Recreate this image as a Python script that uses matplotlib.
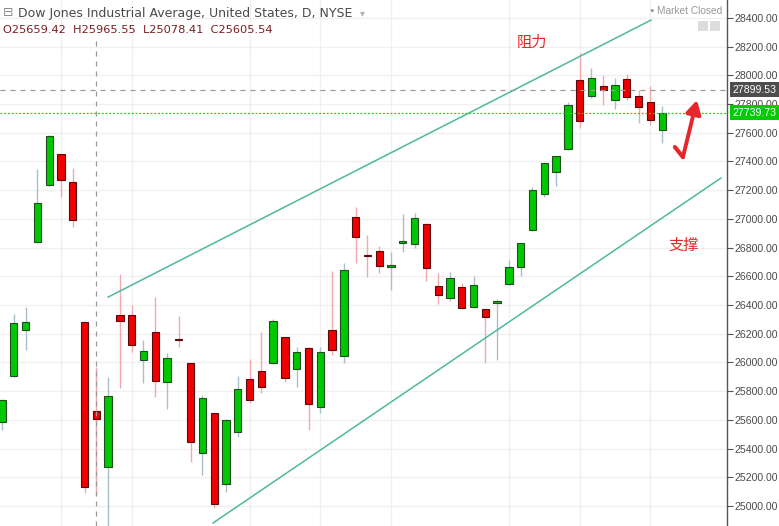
import numpy as np
import matplotlib
matplotlib.use("Agg")
import matplotlib.pyplot as plt
from matplotlib.patches import Rectangle

plt.rcParams['font.family'] = ['DejaVu Sans', 'Noto Sans CJK SC']

# daily candles, oldest first
opens = [25585, 25905, 26226, 26838, 27235, 27451, 27256, 26281, 25659.42, 25272,
         26330, 26330, 26017, 26212, 25864, 26160, 25996, 25369, 25648, 25153,
         25515, 25884, 25940, 25996, 26177, 25954, 26100, 25689, 26226, 26045,
         27013, 26745, 26776, 26664, 26835, 26825, 26964, 26532, 26449, 26525,
         26386, 26372, 26414, 26546, 26664, 26922, 27173, 27326, 27486, 27967,
         27855, 27925, 27827, 27974, 27855, 27813, 27618]
highs = [25745, 26337, 26386, 27347, 27585, 27455, 27354, 26290, 25965.55, 25898,
         26616, 26400, 26156, 26455, 26066, 26323, 26000, 25773, 25650, 25605,
         25905, 26024, 26212, 26302, 26180, 26107, 26105, 26107, 26637, 26692,
         27082, 26887, 26811, 26769, 27033, 27040, 26970, 26623, 26630, 26553,
         26602, 26375, 26442, 26713, 26835, 27222, 27395, 27440, 27813, 28155,
         28050, 28001, 27981, 28008, 27897, 27925, 27786]
lows = [25529, 25900, 26086, 26830, 27230, 27152, 26943, 25091, 25078.41, 24830,
        25822, 26072, 25857, 25759, 25676, 26107, 25306, 25216, 24986, 25097,
        25481, 25717, 25787, 25990, 25864, 25829, 25529, 25648, 26052, 25996,
        26692, 26595, 26623, 26504, 26769, 26797, 26567, 26407, 26428, 26372,
        26380, 25996, 26017, 26540, 26602, 26915, 27152, 27228, 27480, 27632,
        27841, 27793, 27765, 27827, 27667, 27653, 27528]
closes = [25738, 26274, 26281, 27110, 27577, 27270, 26992, 25132, 25605.54, 25766,
          26288, 26121, 26079, 25871, 26031, 26153, 25446, 25752, 25014, 25599,
          25815, 25738, 25829, 26288, 25891, 26072, 25710, 26072, 26086, 26644,
          26873, 26738, 26671, 26678, 26842, 27006, 26657, 26469, 26588, 26379,
          26539, 26316, 26428, 26664, 26832, 27201, 27389, 27437, 27793, 27681,
          27981, 27897, 27932, 27848, 27779, 27688, 27739.73]

last_price = 27739.73
cursor_price = 27899.53
cursor_day = 8
grid_days = [5, 11, 21, 27, 33, 43, 49, 55]
price_ticks = np.arange(25000, 28401, 200)

# hand-drawn channel and markup
upper_x, upper_y = [9.0, 55.05], [26455, 28384]
lower_x, lower_y = [17.9, 60.98], [24882, 27284]
check_x, check_y = [57.08, 57.76, 58.95], [27500, 27430, 27827]

up_col, dn_col = '#00c800', '#f00000'
up_edge, dn_edge = '#1e4d1e', '#5a0a0a'
up_wick, dn_wick = '#a9bfcc', '#f2a8ae'
chan_col = '#4fb89e'
mark_red = '#e5262b'
axis_font = ['Liberation Sans', 'DejaVu Sans']

fig = plt.figure(figsize=(7.79, 5.26), dpi=100)
ax = fig.add_axes([0, 0, 727 / 779, 1])
ax.set_xlim(-0.17, 61.5)
ax.set_ylim(24861, 28524)

for g in grid_days:
    ax.axvline(g, color='#f0f0f0', lw=1, zorder=0)
for t in price_ticks:
    ax.axhline(t, color='#f0f0f0', lw=1, zorder=0)

o = np.array(opens, float)
h = np.array(highs, float)
l = np.array(lows, float)
c = np.array(closes, float)
x = np.arange(len(o))
up = c >= o

ax.vlines(x[up], l[up], h[up], color=up_wick, lw=1, zorder=2)
ax.vlines(x[~up], l[~up], h[~up], color=dn_wick, lw=1, zorder=2)
body_lo = np.minimum(o, c)
body_h = np.maximum(np.abs(c - o), 8)
ax.bar(x[up], body_h[up], bottom=body_lo[up], width=0.62, color=up_col,
       edgecolor=up_edge, linewidth=0.8, zorder=3)
ax.bar(x[~up], body_h[~up], bottom=body_lo[~up], width=0.62, color=dn_col,
       edgecolor=dn_edge, linewidth=0.8, zorder=3)

ax.plot(upper_x, upper_y, color=chan_col, lw=1.1, zorder=4)
ax.plot(lower_x, lower_y, color=chan_col, lw=1.1, zorder=4)

# crosshair and last price line
ax.axhline(cursor_price, color='#9a9a9a', lw=0.9, ls=(0, (4, 4)), zorder=5)
ax.plot([cursor_day, cursor_day], [ax.get_ylim()[0], 28245], color='#9a9a9a',
        lw=0.9, ls=(0, (4, 4)), zorder=5)
ax.axhline(last_price, color='#22cc22', lw=0.9, ls=(0, (1.5, 1.5)), zorder=5)

# markup
ax.plot(check_x[:2], check_y[:2], color=mark_red, lw=3, solid_capstyle='round', zorder=6)
ax.annotate('', xy=(check_x[2], check_y[2]), xytext=(check_x[1], check_y[1]),
            arrowprops=dict(arrowstyle='-|>,head_length=0.8,head_width=0.45',
                            color=mark_red, lw=2.8, shrinkA=0, shrinkB=0), zorder=6)
ax.text(44.95, 28231, '阻力', color=mark_red, fontsize=11, ha='center', va='center',
        family=['Noto Sans CJK SC', 'DejaVu Sans'])
ax.text(57.85, 26818, '支撑', color=mark_red, fontsize=11, ha='center', va='center',
        family=['Noto Sans CJK SC', 'DejaVu Sans'])

# right price scale
ax.yaxis.tick_right()
ax.set_yticks(price_ticks)
ax.set_yticklabels([f'{t:.2f}' for t in price_ticks], family=axis_font)
ax.tick_params(axis='y', length=4, width=0.8, color='#555555', labelsize=7.6,
               labelcolor='#4a4a4a', pad=1.5)
ax.tick_params(axis='x', bottom=False, labelbottom=False)
for side in ['top', 'left', 'bottom']:
    ax.spines[side].set_visible(False)
ax.spines['right'].set_color('#555555')
ax.spines['right'].set_linewidth(1)

for price, bg in [(cursor_price, '#4d4d4d'), (last_price, '#00cc00')]:
    ax.annotate(f'{price:.2f}', xy=(1, price), xycoords=('axes fraction', 'data'),
                xytext=(4, 0), textcoords='offset points', ha='left', va='center',
                fontsize=7.6, color='white', family=axis_font, annotation_clip=False,
                bbox=dict(boxstyle='square,pad=0.25', fc=bg, ec='none'))

# header
fig.text(3 / 779, 1 - 13 / 526, '⊟', fontsize=9, color='#8a8a8a', va='center')
fig.text(18 / 779, 1 - 13 / 526, 'Dow Jones Industrial Average, United States, D, NYSE',
         fontsize=9.0, color='#4a4a4a', va='center')
fig.text(360 / 779, 1 - 13 / 526, '▾', fontsize=7, color='#b0b0b0', va='center')
fig.text(3 / 779, 1 - 30 / 526, 'O25659.42  H25965.55  L25078.41  C25605.54',
         fontsize=8.2, color='#7a1f1f', va='center')
fig.text(648 / 779, 1 - 11 / 526, '•', fontsize=8, color='#999999', va='center')
fig.text(657 / 779, 1 - 11 / 526, 'Market Closed', fontsize=7.3, color='#999999',
         va='center', family=axis_font)
for bx in [698, 710]:
    fig.patches.append(Rectangle((bx / 779, 1 - 31 / 526), 10 / 779, 10 / 526,
                                 transform=fig.transFigure, fc='#dddddd', ec='none'))

fig.savefig('out.png', dpi=100)
